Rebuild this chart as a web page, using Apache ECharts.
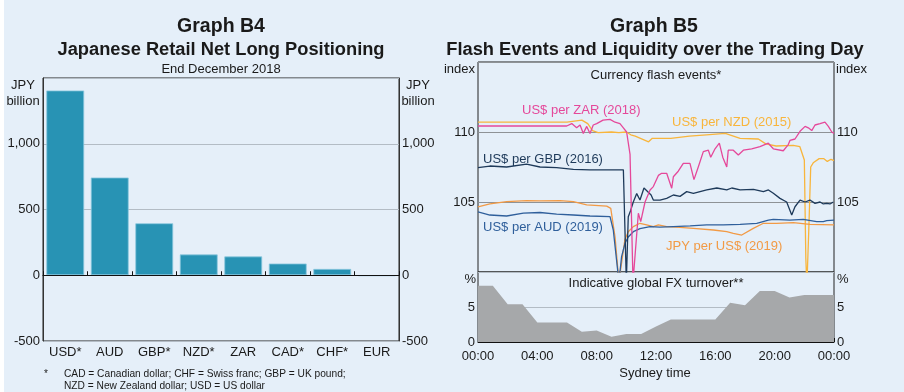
<!DOCTYPE html>
<html><head><meta charset="utf-8">
<script src="https://cdn.jsdelivr.net/npm/echarts@6.0.0/dist/echarts.min.js"></script>
<style>html,body{margin:0;padding:0;background:#fff}#c{width:904px;height:392px}</style>
</head><body><div id="c"></div>
<script>
// ---------- Graph B4 data ----------
const currencies = ['USD*', 'AUD', 'GBP*', 'NZD*', 'ZAR', 'CAD*', 'CHF*', 'EUR'];
const netLong = [1405, 743, 395, 158, 143, 89, 48, -6];

// ---------- Graph B5 data (hours since 00:00 Sydney, index) ----------
const zarFlash = [[0,110.43],[5.98,110.43],[6.32,110.6],[6.65,110.3],[6.88,110.5],[7.1,109.9],[7.33,110.4],[7.55,109.9],[7.77,110.5],[8.0,110.6],[8.43,110.85],[8.9,110.9],[9.24,110.7],[9.57,110.6],[9.8,110.3],[10.02,110.0],[10.25,108.4],[10.45,99.3],[10.81,104.2],[10.97,103.6],[11.26,105.0],[11.6,105.86],[11.82,106.1],[12.16,106.9],[12.38,107.05],[12.72,107.05],[13.06,105.98],[13.17,106.8],[13.5,107.2],[13.84,107.76],[14.29,107.76],[14.56,106.6],[14.85,107.5],[15.19,108.6],[15.53,108.7],[15.69,108.2],[15.98,108.8],[16.27,109.2],[16.5,108.2],[16.77,107.5],[16.87,108.7],[17.21,108.7],[17.55,108.36],[17.89,108.7],[18.45,108.8],[19.01,108.95],[19.57,109.2],[19.91,108.8],[20.58,108.66],[20.92,109.1],[21.03,109.4],[21.37,109.5],[21.71,110.05],[22.05,110.4],[22.27,110.3],[22.5,110.1],[22.72,110.5],[23.06,110.6],[23.39,110.7],[23.62,110.4],[23.85,110.0],[24,109.9]];
const nzdFlash = [[0,110.7],[6.0,110.7],[7.0,110.85],[7.4,110.6],[7.72,110.1],[8.1,109.95],[9.0,110.0],[9.5,109.95],[10.0,110.0],[10.3,109.8],[10.6,109.7],[11.5,109.3],[11.75,109.55],[13.0,109.55],[14.25,109.7],[15.4,109.8],[16.67,109.9],[16.8,109.8],[17.67,109.55],[18.9,109.5],[19.4,109.15],[20.1,109.0],[21.25,109.05],[21.7,108.95],[22.0,108.0],[22.1,101],[22.17,99],[22.3,103],[22.43,107.5],[22.6,107.8],[23.0,108.1],[23.3,108.1],[23.55,107.9],[23.8,108.05],[24,107.95]];
const gbpFlash = [[0,107.45],[0.8,107.57],[1.93,107.5],[3.27,107.7],[4.18,107.5],[5.3,107.45],[6.43,107.33],[7.55,107.3],[9.8,107.3],[9.92,107.3],[10.0,99.3],[10.13,103.95],[10.29,104.4],[10.47,105.0],[10.7,105.6],[10.92,105.14],[11.19,106.0],[11.48,105.7],[11.67,105.5],[11.82,105.14],[12.27,105.14],[12.72,105.26],[13.17,105.5],[13.62,105.4],[14.07,105.74],[14.52,105.62],[15.42,105.86],[16.1,106.0],[16.77,105.86],[17.11,106.0],[17.67,105.86],[18.57,105.9],[19.24,105.74],[19.58,105.86],[19.91,105.62],[20.36,105.26],[20.81,105.0],[21.15,104.07],[21.37,104.66],[21.71,105.14],[22.05,105.0],[22.38,105.14],[22.72,104.9],[23.06,105.0],[23.28,104.86],[23.51,104.9],[23.73,104.86],[23.96,105.0],[24,105.0]];
const audFlash = [[0,104.3],[0.8,104.07],[1.93,104.0],[3.06,104.2],[4.18,104.25],[5.3,104.14],[6.43,104.07],[7.55,104.0],[8.9,103.95],[9.12,103.0],[9.5,99.3],[9.68,101.1],[9.91,102.05],[10.13,102.5],[10.47,102.88],[10.92,103.1],[11.6,103.24],[12.27,103.2],[13.17,103.24],[14.3,103.29],[15.42,103.36],[16.54,103.36],[17.67,103.4],[18.79,103.48],[19.58,103.71],[19.91,103.76],[21.03,103.71],[21.93,103.76],[22.83,103.6],[23.28,103.6],[23.51,103.67],[24,103.71]];
const jpyFlash = [[0,104.66],[0.8,104.86],[1.93,105.02],[3.27,105.1],[4.18,105.08],[5.53,105.1],[6.43,105.02],[7.33,104.79],[8.68,104.7],[8.95,104.55],[9.24,102.5],[9.5,99.3],[9.9,102.3],[10.13,102.88],[10.47,103.24],[10.92,103.48],[11.37,103.36],[11.82,103.24],[12.16,103.36],[12.72,103.24],[13.62,103.19],[14.52,103.12],[15.87,103.0],[16.77,102.88],[17.21,102.76],[17.78,102.64],[18.56,103.12],[19.24,103.48],[20.13,103.48],[21.26,103.52],[22.38,103.4],[24,103.36]];
const turnoverHours = [0,1,2,3,4,5,6,7,8,9,10,11,12,13,14,15,16,17,18,19,20,21,22,23,24];
const turnover = [8.05,8.05,5.4,5.4,2.8,2.8,2.8,1.45,1.65,0.75,1.15,1.15,2.2,3.2,3.2,3.2,3.2,5.6,5.25,7.3,7.3,6.35,6.7,6.7,6.7];

const FONT = 'Liberation Sans, Arial, Helvetica, sans-serif';
const TXT = '#1a1a1a';

function t(x, y, text, size, opts) {
  opts = opts || {};
  return {
    type: 'text', silent: true, z: 100,
    style: {
      x: x, y: y, text: text,
      fill: opts.fill || TXT,
      font: (opts.bold ? 'bold ' : '') + size + 'px ' + FONT,
      align: opts.align || 'center',
      verticalAlign: 'middle'
    }
  };
}

const chart = echarts.init(document.getElementById('c'), null, {renderer: 'canvas'});

const gridBox = {show: true, borderColor: '#222', borderWidth: 1, backgroundColor: 'transparent'};
const lblStyle = {color: TXT, fontSize: 13, fontFamily: FONT};

const hourLabel = v => (v % 4 === 0) ? String(v % 24).padStart(2, '0') + ':00' : '';

function flashSeries(data, color) {
  return {
    type: 'line', xAxisIndex: 1, yAxisIndex: 2, data: data,
    showSymbol: false, symbol: 'none', clip: true,
    lineStyle: {color: color, width: 1.3}, z: 3
  };
}

const option = {
  animation: false,
  backgroundColor: '#e5eff9',
  grid: [
    Object.assign({left: 43, top: 78, width: 356, height: 263}, gridBox),
    Object.assign({left: 478, top: 62, width: 356, height: 210}, gridBox),
    Object.assign({left: 478, top: 272, width: 356, height: 70}, gridBox)
  ],
  xAxis: [
    {type: 'category', gridIndex: 0, data: currencies, position: 'bottom',
     axisLine: {lineStyle: {color: '#111', width: 1}},
     axisTick: {show: true, inside: true, length: 4, alignWithLabel: false, lineStyle: {color: '#111'}},
     axisLabel: Object.assign({margin: 5}, lblStyle)},
    {type: 'value', gridIndex: 1, min: 0, max: 24, interval: 4,
     axisLine: {show: false}, axisTick: {show: false}, axisLabel: {show: false}, splitLine: {show: false}},
    {type: 'value', gridIndex: 2, min: 0, max: 24, interval: 1,
     axisLine: {lineStyle: {color: '#111'}},
     axisTick: {show: true, inside: true, length: 4, lineStyle: {color: '#111'}},
     axisLabel: Object.assign({margin: 8, formatter: hourLabel, showMinLabel: true, showMaxLabel: true}, lblStyle),
     splitLine: {show: false}}
  ],
  yAxis: [
    {type: 'value', gridIndex: 0, min: -500, max: 1500, interval: 500, position: 'left',
     axisLine: {show: true, lineStyle: {color: '#333'}}, axisTick: {show: false},
     axisLabel: Object.assign({margin: 3, formatter: v => v === 1500 ? '' : v.toLocaleString('en-US')}, lblStyle),
     splitLine: {lineStyle: {color: '#b3bcc5', width: 1}}},
    {type: 'value', gridIndex: 0, min: -500, max: 1500, interval: 500, position: 'right',
     axisLine: {show: true, lineStyle: {color: '#333'}}, axisTick: {show: false},
     axisLabel: Object.assign({margin: 3, formatter: v => v === 1500 ? '' : v.toLocaleString('en-US')}, lblStyle),
     splitLine: {show: false}},
    {type: 'value', gridIndex: 1, min: 100, max: 115, interval: 5, position: 'left',
     axisLine: {show: false}, axisTick: {show: false},
     axisLabel: Object.assign({margin: 3, formatter: v => (v === 105 || v === 110) ? String(v) : ''}, lblStyle),
     splitLine: {lineStyle: {color: '#8e9296', width: 1}}},
    {type: 'value', gridIndex: 1, min: 100, max: 115, interval: 5, position: 'right',
     axisLine: {show: false}, axisTick: {show: false},
     axisLabel: Object.assign({margin: 3, formatter: v => (v === 105 || v === 110) ? String(v) : ''}, lblStyle),
     splitLine: {show: false}},
    {type: 'value', gridIndex: 2, min: 0, max: 10, interval: 5, position: 'left',
     axisLine: {show: false}, axisTick: {show: false},
     axisLabel: Object.assign({margin: 3, formatter: v => v === 10 ? '' : String(v)}, lblStyle),
     splitLine: {lineStyle: {color: '#b3bcc5', width: 1}}},
    {type: 'value', gridIndex: 2, min: 0, max: 10, interval: 5, position: 'right',
     axisLine: {show: false}, axisTick: {show: false},
     axisLabel: Object.assign({margin: 3, formatter: v => v === 10 ? '' : String(v)}, lblStyle),
     splitLine: {show: false}}
  ],
  series: [
    {type: 'bar', xAxisIndex: 0, yAxisIndex: 0, data: netLong, barCategoryGap: '15%',
     itemStyle: {color: '#2893b4', borderColor: '#8cc8de', borderWidth: 0.8},
     markLine: {silent: true, symbol: 'none', label: {show: false},
       lineStyle: {color: '#111', type: 'solid', width: 1.2}, data: [{yAxis: 0}]}},
    flashSeries(nzdFlash, '#f8b53c'),
    flashSeries(jpyFlash, '#f29a45'),
    flashSeries(audFlash, '#2f5f9b'),
    flashSeries(gbpFlash, '#1e3a5a'),
    flashSeries(zarFlash, '#e5489a'),
    {type: 'line', xAxisIndex: 2, yAxisIndex: 4,
     data: turnoverHours.map((h, i) => [h, turnover[i]]),
     showSymbol: false, symbol: 'none', lineStyle: {width: 0},
     areaStyle: {color: '#a6a8aa', opacity: 1}, z: 2}
  ],
  graphic: [
    {type: 'rect', silent: true, z: 0, shape: {x: 0, y: 0, width: 4, height: 392}, style: {fill: '#ffffff'}},
    t(221, 27, 'Graph B4', 19.5, {bold: true}),
    t(221, 50, 'Japanese Retail Net Long Positioning', 18.3, {bold: true}),
    t(221, 69, 'End December 2018', 13),
    t(23, 85, 'JPY', 13),
    t(23, 101, 'billion', 13),
    t(418, 85, 'JPY', 13),
    t(418, 101, 'billion', 13),
    t(44, 374, '*', 10, {align: 'left'}),
    t(64, 374, 'CAD = Canadian dollar; CHF = Swiss franc; GBP = UK pound;', 10.2, {align: 'left'}),
    t(64, 386, 'NZD = New Zealand dollar; USD = US dollar', 10.2, {align: 'left'}),

    t(654, 27, 'Graph B5', 19.5, {bold: true}),
    t(655, 50, 'Flash Events and Liquidity over the Trading Day', 18.3, {bold: true}),
    t(475, 69, 'index', 13, {align: 'right'}),
    t(836, 69, 'index', 13, {align: 'left'}),
    t(656, 75, 'Currency flash events*', 13),
    t(522, 110, 'US$ per ZAR (2018)', 13, {align: 'left', fill: '#e5489a'}),
    t(672, 122, 'US$ per NZD (2015)', 13, {align: 'left', fill: '#f8b53c'}),
    t(483, 159, 'US$ per GBP (2016)', 13, {align: 'left', fill: '#1e3a5a'}),
    t(483, 227, 'US$ per AUD (2019)', 13, {align: 'left', fill: '#2f5f9b'}),
    t(666, 246, 'JPY per US$ (2019)', 13, {align: 'left', fill: '#f29a45'}),
    t(476, 279, '%', 13, {align: 'right'}),
    t(837, 279, '%', 13, {align: 'left'}),
    t(656, 283, 'Indicative global FX turnover**', 13),
    t(655, 373, 'Sydney time', 13)
  ]
};
chart.setOption(option);
</script>
</body></html>
